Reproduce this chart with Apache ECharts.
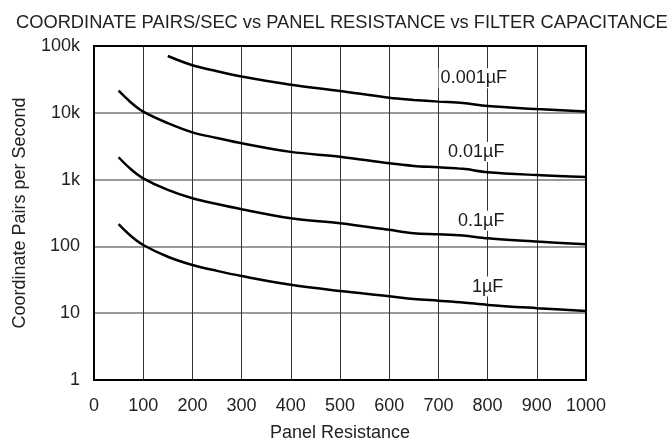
<!DOCTYPE html>
<html><head><meta charset="utf-8">
<script src="https://cdn.jsdelivr.net/npm/echarts@6/dist/echarts.min.js"></script>
<style>html,body{margin:0;padding:0;background:#fff}#c{width:670px;height:441px}</style>
</head><body><div id="c"></div>
<script>
var resistance = [50, 75, 100, 150, 200, 250, 300, 400, 500, 600, 650, 700, 750, 800, 900, 1000];
var resistance001 = [150, 200, 250, 300, 400, 500, 600, 650, 700, 750, 800, 900, 1000];
var cap0001 = [70800, 51500, 42000, 35000, 26300, 21200, 16800, 15600, 14700, 14000, 12600, 11400, 10500];
var cap001 = [21400, 14300, 10400, 7000, 5100, 4200, 3500, 2600, 2200, 1750, 1600, 1530, 1450, 1290, 1170, 1095];
var cap01 = [2160, 1430, 1046, 700, 525, 430, 360, 264, 222, 177, 157, 152, 145, 132, 118, 108];
var cap1 = [215, 143, 105, 70, 52.7, 43, 36, 26.6, 21.5, 18, 16.3, 15.4, 14.5, 13.3, 11.9, 10.8];
var curveNames = ['0.001\u00b5F', '0.01\u00b5F', '0.1\u00b5F', '1\u00b5F'];
var labelX = [772, 777, 787, 800];
var labelY = [33000, 2600, 243, 25];
var yTickLabels = {1: '1', 10: '10', 100: '100', 1000: '1k', 10000: '10k', 100000: '100k'};

function pairs(xs, ys) { return xs.map(function (x, i) { return [x, ys[i]]; }); }

var font = 'Liberation Sans, Arial, Helvetica, sans-serif';
var lineSeries = [
  pairs(resistance001, cap0001),
  pairs(resistance, cap001),
  pairs(resistance, cap01),
  pairs(resistance, cap1)
].map(function (d, i) {
  return {
    type: 'line', name: curveNames[i], data: d, smooth: 0.35, symbol: 'none',
    lineStyle: {color: '#000', width: 2.5}, z: 3
  };
});

var labelSeries = {
  type: 'scatter', symbolSize: 0, z: 5, silent: true,
  itemStyle: {opacity: 1},
  data: curveNames.map(function (n, i) { return {name: n, value: [labelX[i], labelY[i]]}; }),
  label: {
    show: true, position: 'inside', formatter: '{b}',
    fontFamily: font, fontSize: 18, color: '#1a1a1a', opacity: 1,
    backgroundColor: '#fff', padding: [1, 2]
  }
};

var chart = echarts.init(document.getElementById('c'));
chart.setOption({
  animation: false,
  title: {
    text: 'COORDINATE PAIRS/SEC vs PANEL RESISTANCE vs FILTER CAPACITANCE',
    left: 11, top: 9,
    textStyle: {fontFamily: font, fontSize: 18.3, fontWeight: 'normal', color: '#222'}
  },
  grid: {left: 94, right: 84, top: 46, bottom: 61, outerBoundsMode: 'none', containLabel: false,
    show: true, borderColor: '#000', borderWidth: 2, backgroundColor: 'transparent', z: 10},
  xAxis: {
    type: 'value', min: 0, max: 1000, interval: 100,
    name: 'Panel Resistance', nameLocation: 'middle', nameGap: 44,
    nameTextStyle: {fontFamily: font, fontSize: 18, color: '#222'},
    axisLine: {show: false}, axisTick: {show: false},
    axisLabel: {fontFamily: font, fontSize: 18, color: '#222', margin: 17,
      formatter: function (v) { return String(v); }},
    splitLine: {show: true, lineStyle: {color: '#333', width: 1}}
  },
  yAxis: {
    type: 'log', logBase: 10, min: 1, max: 100000,
    name: 'Coordinate Pairs per Second', nameLocation: 'middle', nameGap: 65,
    nameTextStyle: {fontFamily: font, fontSize: 18, color: '#222'},
    axisLine: {show: false}, axisTick: {show: false},
    axisLabel: {fontFamily: font, fontSize: 18, color: '#222', margin: 14,
      formatter: function (v) { return yTickLabels[Math.round(v)] || ''; }},
    splitLine: {show: true, lineStyle: {color: '#777', width: 1.5}},
    minorTick: {show: false}
  },
  series: lineSeries.concat([labelSeries])
});
</script></body></html>
